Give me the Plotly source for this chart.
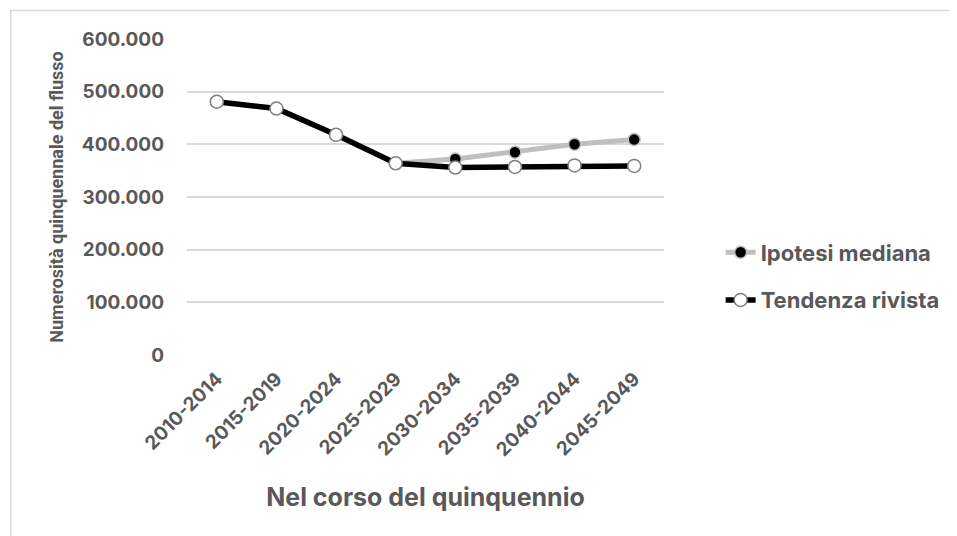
import plotly.graph_objects as go

periods = ["2010-2014", "2015-2019", "2020-2024", "2025-2029",
           "2030-2034", "2035-2039", "2040-2044", "2045-2049"]
ipotesi_mediana = [481000, 468000, 418000, 364000, 372000, 385000, 400000, 409000]
tendenza_rivista = [481000, 468000, 418000, 364000, 356000, 357000, 360000, 359000]
y_ticks = [0, 100000, 200000, 300000, 400000, 500000, 600000]

FONT = "Inter, Roboto, Arial, sans-serif"
GREY_TXT = "#595959"

# the page body has an 8px margin, so the figure is drawn 8px smaller
# plot area in figure px: x 179..659, y 31..347
L, T, PW, PH = 179, 31, 480, 316

fig = go.Figure()

# gray series behind
fig.add_trace(go.Scatter(
    x=periods, y=ipotesi_mediana, name="Ipotesi mediana", legendgroup="a",
    mode="lines+markers",
    line=dict(color="#BFBFBF", width=5),
    marker=dict(size=12, color="black", line=dict(color="#BFBFBF", width=1.5))
))

# black series on top
fig.add_trace(go.Scatter(
    x=periods, y=tendenza_rivista, name="Tendenza rivista", legendgroup="b",
    mode="lines+markers",
    line=dict(color="black", width=5.5),
    marker=dict(size=13, color="white", line=dict(color="#7F7F7F", width=1.5))
))

# outer frame (only top and left edges visible)
fx = (1.5 - L) / PW
fy = (T + PH - 2.5) / PH
fig.add_shape(type="line", xref="paper", yref="paper",
              x0=fx, x1=1.7, y0=fy, y1=fy,
              line=dict(color="#D9D9D9", width=1.5))
fig.add_shape(type="line", xref="paper", yref="paper",
              x0=fx, x1=fx, y0=fy, y1=-1,
              line=dict(color="#D9D9D9", width=1.5))

fig.update_xaxes(
    range=[-0.5, 7.5], tickangle=-45, showgrid=False, showline=False, zeroline=False,
    ticks="", ticklabelstandoff=8,
    tickfont=dict(family=FONT, size=19, color=GREY_TXT, weight="bold"),
    title=dict(text="Nel corso del quinquennio", standoff=28,
               font=dict(family=FONT, size=25, color=GREY_TXT, weight="bold"))
)
fig.update_yaxes(
    range=[0, 600000], tickvals=y_ticks, tickformat=",d",
    showgrid=True, gridcolor="#D9D9D9", gridwidth=1.5, zeroline=False, showline=False,
    ticks="", ticklabelstandoff=22,
    tickfont=dict(family=FONT, size=19, color=GREY_TXT, weight="bold"),
    title=dict(text="Numerosità quinquennale del flusso", standoff=13,
               font=dict(family="Roboto, Inter, Arial, sans-serif", size=18,
                         color=GREY_TXT, weight="bold"))
)

fig.update_layout(
    width=949, height=528,
    margin=dict(l=L, r=949 - L - PW, t=T, b=528 - T - PH),
    paper_bgcolor="white", plot_bgcolor="white",
    separators=",.",
    showlegend=True,
    legend=dict(x=(716 - L) / PW, y=(T + PH - 268.5) / PH, xanchor="left", yanchor="middle",
                font=dict(family=FONT, size=22, color=GREY_TXT, weight="bold"),
                tracegroupgap=16, bgcolor="rgba(0,0,0,0)")
)

fig.write_html("out.html")
